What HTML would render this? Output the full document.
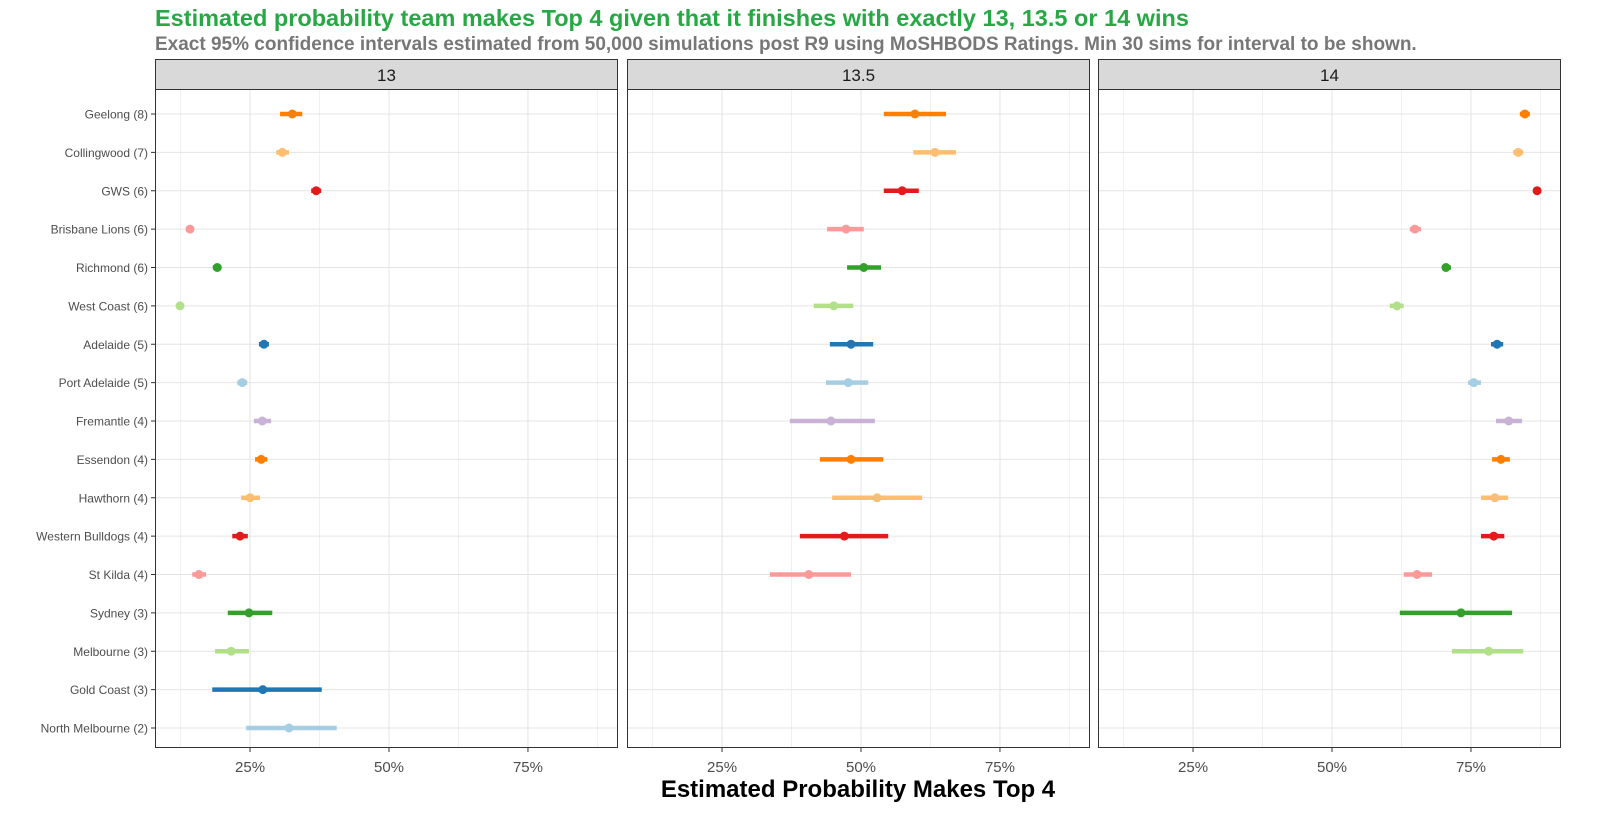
<!DOCTYPE html>
<html><head><meta charset="utf-8"><style>
body{margin:0;background:#fff;font-family:"Liberation Sans",sans-serif;}
svg text{font-family:"Liberation Sans",sans-serif;}
</style></head><body>
<svg id="chart" width="1600" height="822" xmlns="http://www.w3.org/2000/svg">
<text x="155" y="26" font-size="23.5" font-weight="bold" fill="#27A845">Estimated probability team makes Top 4 given that it finishes with exactly 13, 13.5 or 14 wins</text>
<text x="155" y="50" font-size="19" font-weight="bold" fill="#777">Exact 95% confidence intervals estimated from 50,000 simulations post R9 using MoSHBODS Ratings. Min 30 sims for interval to be shown.</text>
<text x="858" y="797" font-size="24" font-weight="bold" text-anchor="middle" fill="#000">Estimated Probability Makes Top 4</text>
<g id="plot"></g>
</svg>
<script>
const teams=["Geelong (8)","Collingwood (7)","GWS (6)","Brisbane Lions (6)","Richmond (6)","West Coast (6)","Adelaide (5)","Port Adelaide (5)","Fremantle (4)","Essendon (4)","Hawthorn (4)","Western Bulldogs (4)","St Kilda (4)","Sydney (3)","Melbourne (3)","Gold Coast (3)","North Melbourne (2)"];
const colors=["#FF7F00","#FDBF6F","#E31A1C","#FB9A99","#33A02C","#B2DF8A","#1F78B4","#A6CEE3","#CAB2D6","#FF7F00","#FDBF6F","#E31A1C","#FB9A99","#33A02C","#B2DF8A","#1F78B4","#A6CEE3"];
const panels=["13","13.5","14"];
const tickLabels=["25%","50%","75%"];
const tickValues=[25,50,75];
const est13=[32.6,30.8,36.9,14.2,19.1,12.4,27.5,23.6,27.2,27.0,25.0,23.2,15.8,24.8,21.6,27.3,32.0];
const lo13=[30.4,29.7,36.0,13.5,18.3,11.7,26.6,22.7,25.7,25.9,23.4,21.8,14.6,21.0,18.7,18.2,24.3];
const hi13=[34.4,32.0,37.8,14.9,19.8,13.1,28.4,24.5,28.8,28.1,26.8,24.6,17.1,29.0,24.8,37.9,40.6];
const est135=[59.7,63.3,57.4,47.3,50.5,45.1,48.2,47.7,44.6,48.2,52.9,47.0,40.6,null,null,null,null];
const lo135=[54.1,59.4,54.1,43.9,47.5,41.5,44.4,43.7,37.2,42.6,44.8,39.0,33.6,null,null,null,null];
const hi135=[65.3,67.1,60.4,50.5,53.6,48.6,52.2,51.3,52.5,54.0,61.0,54.9,48.2,null,null,null,null];
const est14=[84.7,83.5,86.9,64.9,70.5,61.7,79.7,75.5,81.8,80.4,79.3,79.1,65.3,73.2,78.2,null,null];
const lo14=[83.8,82.6,86.2,64.0,69.8,60.4,78.6,74.5,79.5,78.8,76.8,76.8,62.9,62.2,71.6,null,null];
const hi14=[85.6,84.4,87.6,66.0,71.4,62.9,80.8,76.8,84.2,82.0,81.7,81.0,68.0,82.4,84.4,null,null];
const E=[est13,est135,est14],L=[lo13,lo135,lo14],H=[hi13,hi135,hi14];
const NS="http://www.w3.org/2000/svg",plotG=document.getElementById('plot');
const panelLeft=[155,627,1098],pw=463,plotTop=89,plotBottom=748,stripTop=59;
const xMin=7.9,xMax=91.2;
function xs(p,v){return panelLeft[p]+(v-xMin)/(xMax-xMin)*pw;}
function ys(i){return 114+i*(728-114)/(teams.length-1);}
function mk(t,a,parent){const e=document.createElementNS(NS,t);for(const k in a)e.setAttribute(k,a[k]);(parent||plotG).appendChild(e);return e;}
for(let p=0;p<3;p++){
  const pg=mk('g',{});
  
  
  mk('rect',{x:panelLeft[p],y:plotTop,width:pw,height:plotBottom-plotTop,fill:'#fff'},pg);
  [12.5,37.5,62.5,87.5].forEach(v=>mk('line',{x1:xs(p,v),x2:xs(p,v),y1:plotTop,y2:plotBottom,stroke:'#F0F0F0','stroke-width':1},pg));
  tickValues.forEach(v=>mk('line',{x1:xs(p,v),x2:xs(p,v),y1:plotTop,y2:plotBottom,stroke:'#E4E4E4','stroke-width':1},pg));
  teams.forEach((t,i)=>mk('line',{x1:panelLeft[p],x2:panelLeft[p]+pw,y1:ys(i),y2:ys(i),stroke:'#E4E4E4','stroke-width':1},pg));
  mk('rect',{x:panelLeft[p]+0.5,y:plotTop+0.5,width:pw-1,height:plotBottom-plotTop-1,fill:'none',stroke:'#333','stroke-width':1},pg);
  const st=mk('rect',{x:panelLeft[p]+0.5,y:stripTop+0.5,width:pw-1,height:plotTop-stripTop,fill:'#D9D9D9',stroke:'#333','stroke-width':1},pg);
  
  
  const sl=mk('text',{x:panelLeft[p]+pw/2,y:81,'font-size':17,'text-anchor':'middle',fill:'#1a1a1a'},pg);
  sl.textContent=panels[p];
  
  
  tickValues.forEach((v,k)=>{
    mk('line',{x1:xs(p,v),x2:xs(p,v),y1:plotBottom,y2:plotBottom+4,stroke:'#333'},pg);
    const tl=mk('text',{x:xs(p,v),y:plotBottom+24,'font-size':15,'text-anchor':'middle',fill:'#4d4d4d'},pg);
    tl.textContent=tickLabels[k];
    
    
  });
  teams.forEach((t,i)=>{
    if(E[p][i]==null)return;
    const ln=mk('line',{x1:xs(p,L[p][i]),x2:xs(p,H[p][i]),y1:ys(i),y2:ys(i),stroke:colors[i],'stroke-width':4.5},pg);
    
    
    const c=mk('circle',{cx:xs(p,E[p][i]),cy:ys(i),r:4.5,fill:colors[i]},pg);
    
    
  });
}
teams.forEach((t,i)=>{
  mk('line',{x1:151,x2:155,y1:ys(i),y2:ys(i),stroke:'#333'});
  const tl=mk('text',{x:148,y:ys(i)+4.5,'font-size':12,'text-anchor':'end',fill:'#4d4d4d'});
  tl.textContent=t;
  
  
});
</script>
</body></html>
